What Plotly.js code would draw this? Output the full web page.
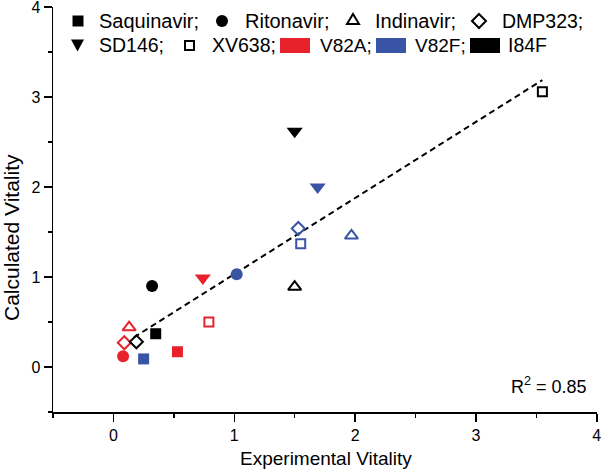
<!DOCTYPE html>
<html>
<head>
<meta charset="utf-8">
<script src="https://cdn.plot.ly/plotly-3.0.1.min.js"></script>
<style>
  html, body { margin: 0; padding: 0; background: #fff; }
  #chart { width: 601px; height: 474px; }
</style>
</head>
<body>
<div id="chart"></div>
<script>
// Data
const drugs = ['Saquinavir', 'Ritonavir', 'Indinavir', 'DMP323', 'SD146', 'XV638'];
const mutants = ['V82A', 'V82F', 'I84F'];

const expV82A  = [0.53, 0.08, 0.13, 0.09, 0.74, 0.79];
const calcV82A = [0.17, 0.12, 0.44, 0.27, 0.99, 0.50];
const expV82F  = [0.25, 1.02, 1.97, 1.53, 1.69, 1.55];
const calcV82F = [0.09, 1.03, 1.46, 1.54, 2.00, 1.37];
const expI84F  = [0.35, 0.32, 1.50, 0.19, 1.50, 3.55];
const calcI84F = [0.37, 0.90, 0.89, 0.28, 2.62, 3.06];

const fitX = [0.17, 3.55];
const fitY = [0.33, 3.19];
const r2Text = 'R<sup>2</sup> = 0.85';
const tickVals = [0, 1, 2, 3, 4];

// Styles
const mutantColors = { V82A: '#E8222B', V82F: '#3A54A5', I84F: '#000000' };
const drugSymbols = ['square', 'circle', 'triangle-up-open', 'diamond-open', 'triangle-down', 'square-open'];
const drugSizes   = [11, 12, 11.5, 10, 14, 9];
const drugLines   = [0, 0, 2, 2, 0, 2];

const FONT = 'Liberation Sans, Arial, sans-serif';

// plot box in pixels
const L = 53, R = 4, T = 7, B = 62;
const PW = 601 - L - R, PH = 474 - T - B;
const px = p => (p - L) / PW;
const py = p => 1 - (p - T) / PH;

const series = [
    { name: 'V82A', x: expV82A, y: calcV82A },
    { name: 'V82F', x: expV82F, y: calcV82F },
    { name: 'I84F', x: expI84F, y: calcI84F }
];

const traces = [{
    x: fitX, y: fitY,
    type: 'scatter', mode: 'lines',
    line: { color: '#000', width: 2, dash: '6px,4px' },
    hoverinfo: 'skip'
}];

series.forEach(s => {
    traces.push({
        x: s.x, y: s.y, text: drugs,
        name: s.name,
        type: 'scatter', mode: 'markers',
        marker: {
            symbol: drugSymbols,
            size: drugSizes,
            opacity: 1,
            color: mutantColors[s.name],
            line: { color: mutantColors[s.name], width: drugLines }
        }
    });
});

// Legend block drawn as shapes + annotations (pixel positions)
const shapes = [];
const annotations = [];

function pathShape(pts, fill, stroke) {
    const d = pts.map((p, i) => (i ? 'L' : 'M') + px(p[0]).toFixed(5) + ',' + py(p[1]).toFixed(5)).join(' ') + ' Z';
    shapes.push({
        type: 'path', xref: 'paper', yref: 'paper', path: d,
        fillcolor: fill || 'rgba(0,0,0,0)',
        line: { color: stroke || fill, width: stroke ? 2 : 0 }
    });
}
function rectShape(x0, y0, x1, y1, fill, stroke) {
    pathShape([[x0, y0], [x1, y0], [x1, y1], [x0, y1]], fill, stroke);
}
function label(text, left, cy, size) {
    annotations.push({
        xref: 'paper', yref: 'paper', x: px(left), y: py(cy),
        xanchor: 'left', yanchor: 'middle', showarrow: false,
        text: text, font: { family: FONT, size: size || 19.5, color: '#000' }
    });
}

// row 1
rectShape(72.5, 15.5, 83.5, 26.5, '#000');
shapes.push({
    type: 'circle', xref: 'paper', yref: 'paper',
    x0: px(216), x1: px(228), y0: py(27), y1: py(15),
    fillcolor: '#000', line: { width: 0 }
});
pathShape([[347, 24], [359, 24], [353, 14]], null, '#000');
pathShape([[479, 14], [486, 21], [479, 28], [472, 21]], null, '#000');
// row 2
pathShape([[71, 39.5], [84, 39.5], [77.5, 51.5]], '#000');
rectShape(185, 41, 194, 50, null, '#000');
rectShape(280, 38, 310, 53, mutantColors.V82A);
rectShape(376, 38, 406, 53, mutantColors.V82F);
rectShape(470, 38, 500, 53, mutantColors.I84F);

label('Saquinavir;', 97, 21, 20);
label('Ritonavir;', 243, 21, 20);
label('Indinavir;', 373, 21, 20);
label('DMP323;', 500, 21, 19.5);
label('SD146;', 97, 45, 19.5);
label('XV638;', 210, 45, 19.5);
label('V82A;', 318, 45, 19);
label('V82F;', 413, 45, 19);
label('I84F', 506, 45, 19.5);

// R^2
annotations.push({
    xref: 'paper', yref: 'paper', x: px(589), y: py(385),
    xanchor: 'right', yanchor: 'middle', showarrow: false,
    text: r2Text, font: { family: FONT, size: 18, color: '#000' }
});

// axis titles
annotations.push({
    xref: 'paper', yref: 'paper', x: px(326), y: py(458),
    xanchor: 'center', yanchor: 'middle', showarrow: false,
    text: 'Experimental Vitality', font: { family: FONT, size: 19, color: '#000' }
});
annotations.push({
    xref: 'paper', yref: 'paper', x: px(11), y: py(238),
    xanchor: 'center', yanchor: 'middle', showarrow: false, textangle: -90,
    text: 'Calculated Vitality', font: { family: FONT, size: 21, color: '#000' }
});

const axisBase = {
    range: [-0.5, 4.002],
    tickmode: 'array', tickvals: tickVals, ticktext: tickVals.map(String),
    ticks: 'outside', ticklen: 8, tickwidth: 1.5, tickcolor: '#000',
    ticklabeloverflow: 'allow',
    minor: { tick0: 0, dtick: 0.5, ticks: 'outside', ticklen: 4, tickwidth: 1.5, tickcolor: '#000' },
    showline: true, linecolor: '#000', linewidth: 1.5, mirror: false,
    showgrid: false, zeroline: false,
    tickfont: { family: FONT, size: 16, color: '#000' },
    fixedrange: true
};

const layout = {
    width: 601, height: 474,
    margin: { l: L, r: R, t: T, b: B },
    paper_bgcolor: '#fff', plot_bgcolor: '#fff',
    showlegend: false,
    xaxis: { ...axisBase },
    yaxis: { ...axisBase },
    shapes: shapes,
    annotations: annotations
};

Plotly.newPlot('chart', traces, layout, { displayModeBar: false, staticPlot: true });
</script>
</body>
</html>
